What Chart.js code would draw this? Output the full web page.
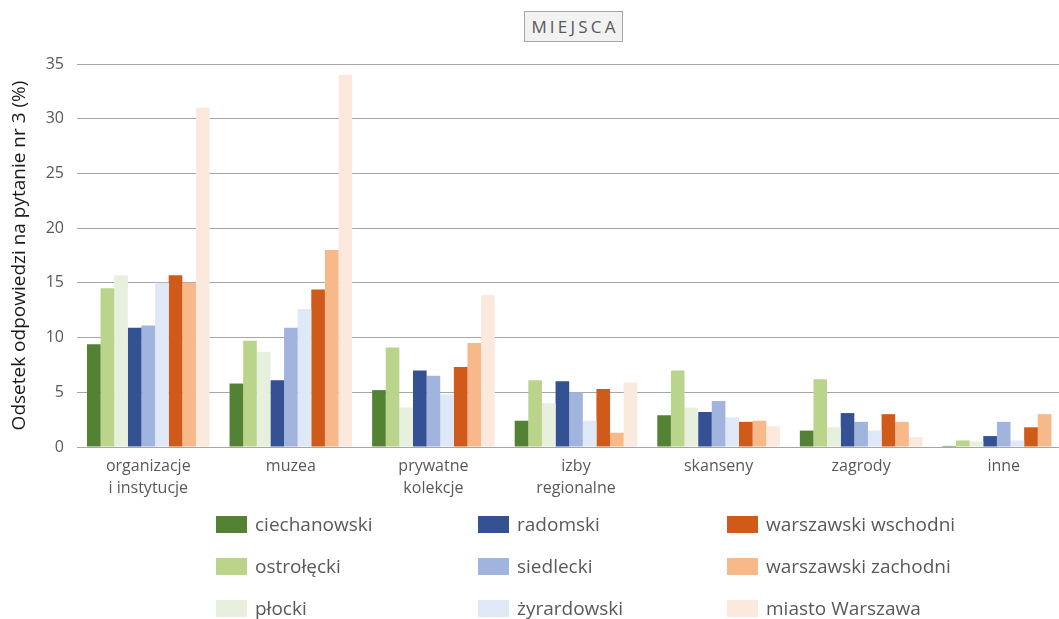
<!DOCTYPE html>
<html lang="pl">
<head>
<meta charset="utf-8">
<script src="https://cdn.jsdelivr.net/npm/chart.js@4"></script>
<style>
  html, body { margin: 0; padding: 0; background: #fff; overflow: hidden; }
  body { width: 1059px; height: 619px; position: relative; font-family: "Open Sans", sans-serif; color: #595959; }
  #wrap { position: absolute; left: 0; top: 0; width: 1075px; height: 619px; }
  #tytul {
    position: absolute; left: 524px; top: 11px; width: 97px; height: 29px;
    border: 1px solid #a6a6a6; background: #f2f2f2;
    font-size: 17px; letter-spacing: 3.2px; line-height: 29px; text-align: center; text-indent: 3px;
  }
  #legenda { position: absolute; left: 0; top: 0; }
  .poz { position: absolute; display: flex; align-items: center; font-size: 19px; white-space: nowrap; height: 24px; }
  .kw { width: 31px; height: 17px; margin-right: 8px; }
</style>
</head>
<body>
<div id="wrap"><canvas id="wykres"></canvas></div>
<div id="tytul">MIEJSCA</div>
<div id="legenda"></div>
<script>
// kategorie (osie X)
const kategorie = [["organizacje", "i instytucje"], "muzea", ["prywatne", "kolekcje"], ["izby", "regionalne"], "skanseny", "zagrody", "inne"];

// podregiony i kolory
const podregiony = ["ciechanowski", "ostrołęcki", "płocki", "radomski", "siedlecki", "żyrardowski", "warszawski wschodni", "warszawski zachodni", "miasto Warszawa"];
const kolory = ["#548235", "#bad48c", "#e7f0dd", "#335193", "#a1b4dd", "#dee8f6", "#cf5a1a", "#f8b98a", "#fce9dd"];

// wartości (%) dla każdego podregionu
const ciechanowski = [9.4, 5.8, 5.2, 2.4, 2.9, 1.5, 0.1];
const ostrolecki   = [14.5, 9.7, 9.1, 6.1, 7.0, 6.2, 0.6];
const plocki       = [15.7, 8.7, 3.6, 4.0, 3.6, 1.8, 0.5];
const radomski     = [10.9, 6.1, 7.0, 6.0, 3.2, 3.1, 1.0];
const siedlecki    = [11.1, 10.9, 6.5, 5.0, 4.2, 2.3, 2.3];
const zyrardowski  = [15.0, 12.6, 4.8, 2.4, 2.7, 1.5, 0.6];
const wWschodni    = [15.7, 14.4, 7.3, 5.3, 2.3, 3.0, 1.8];
const wZachodni    = [15.0, 18.0, 9.5, 1.3, 2.4, 2.3, 3.0];
const warszawa     = [31.0, 34.0, 13.9, 5.9, 1.9, 0.9, 0];

const serie = [ciechanowski, ostrolecki, plocki, radomski, siedlecki, zyrardowski, wWschodni, wZachodni, warszawa];

// ticki osi Y
const tickiY = [0, 5, 10, 15, 20, 25, 30, 35];

const szary = "#595959";
const siatka = "#a6a6a6";

const chart = new Chart(document.getElementById("wykres"), {
  type: "bar",
  data: {
    labels: kategorie,
    datasets: serie.map((d, i) => ({
      label: podregiony[i],
      data: d,
      backgroundColor: kolory[i],
      borderWidth: 0,
      categoryPercentage: 0.86,
      barPercentage: 1
    }))
  },
  options: {
    responsive: true,
    maintainAspectRatio: false,
    animation: false,
    layout: { padding: { top: 64, right: 0, bottom: 0, left: 0 } },
    plugins: {
      legend: { display: false },
      tooltip: { enabled: false }
    },
    scales: {
      x: {
        grid: { display: false, drawTicks: false },
        border: { display: true, color: siatka, width: 1 },
        ticks: { color: szary, font: { family: "Open Sans", size: 16, lineHeight: 1.4 }, padding: 8, maxRotation: 0 },
        afterFit: s => { s.height = 172; }
      },
      y: {
        min: 0, max: 35,
        afterBuildTicks: s => { s.ticks = tickiY.map(v => ({ value: v })); },
        grid: { color: siatka, lineWidth: 1, drawTicks: false },
        border: { display: false },
        ticks: { color: szary, font: { family: "Open Sans", size: 16 }, padding: 13 },
        title: {
          display: true,
          text: "Odsetek odpowiedzi na pytanie nr 3 (%)",
          color: "#1a1a1a",
          font: { family: "Open Sans", size: 19 },
          padding: { top: 8, bottom: 0 }
        },
        afterFit: s => { s.width = 77; }
      }
    }
  }
});

// legenda HTML: 3 kolumny, kolejność kolumnami
const kolX = [216, 478, 727];
const rzY = [524, 566, 608];
const leg = document.getElementById("legenda");
chart.data.datasets.forEach((ds, i) => {
  const el = document.createElement("div");
  el.className = "poz";
  el.style.left = kolX[Math.floor(i / 3)] + "px";
  el.style.top = (rzY[i % 3] - 12) + "px";
  el.innerHTML = '<span class="kw" style="background:' + ds.backgroundColor + '"></span>' + ds.label;
  leg.appendChild(el);
});
</script>
</body>
</html>
